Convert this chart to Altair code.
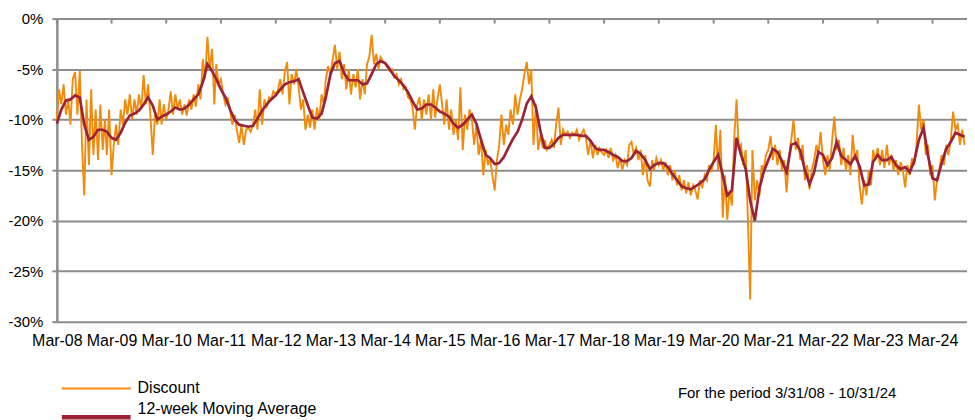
import altair as alt
import pandas as pd

# ---------------- data (percent discount) ----------------
FIRST_MONTH = "2008-03"
LAST_MONTH = "2024-10"

# Discount: semi-monthly readings (3/31/08, then the 15th and month end of each month)
DISCOUNT = [
    -10.0, -7.0, -8.5, -6.5, -9.5, -8.0, -10.5, -6.0, -5.3, -9.5, -5.2, -12.5, -17.5, -8.0, -14.5, -7.0, -13.5, -9.0, -14.0, -8.5, -13.0, -10.0, -13.5, -9.0, -15.5,
    -12.5, -10.5, -12.5, -9.0, -10.5, -8.0, -9.5, -7.5, -10.0, -8.0, -9.5, -7.5, -9.0, -5.6, -8.5, -6.5, -9.5, -13.5, -9.5, -10.5, -8.0, -10.5, -8.5, -10.0,
    -9.0, -7.2, -9.5, -7.5, -9.0, -8.0, -9.5, -8.5, -9.6, -8.0, -9.0, -7.5, -8.7, -6.5, -8.0, -4.0, -6.0, -1.8, -5.0, -3.0, -8.5, -4.5, -6.5, -6.0,
    -7.5, -8.5, -7.8, -9.0, -10.5, -9.5, -11.0, -12.3, -10.5, -12.5, -11.0, -10.8, -11.2, -10.5, -9.0, -11.0, -7.0, -10.5, -8.0, -8.7, -7.8, -8.0, -7.2, -7.5,
    -7.0, -6.0, -7.5, -5.2, -4.3, -8.5, -5.5, -6.5, -5.0, -6.8, -9.0, -8.0, -11.0, -9.5, -10.8, -9.0, -11.0, -8.8, -10.0, -7.5, -8.5, -6.0, -4.7, -5.5,
    -4.0, -2.6, -5.0, -3.3, -6.0, -4.5, -7.0, -5.0, -7.5, -5.5, -6.8, -5.0, -8.0, -6.0, -7.5, -4.5, -3.8, -1.6, -4.5, -3.5, -5.0, -3.8, -4.2, -4.5,
    -4.8, -5.2, -5.0, -5.8, -5.5, -6.5, -6.0, -7.0, -6.8, -7.8, -8.0, -8.8, -11.0, -8.5, -7.8, -10.0, -8.0, -9.5, -7.5, -10.0, -7.0, -9.8, -8.0, -6.5,
    -8.5, -10.5, -8.0, -11.0, -9.0, -11.5, -10.0, -12.0, -6.8, -13.0, -9.5, -11.0, -9.0, -10.0, -12.5, -10.5, -13.5, -12.0, -15.5, -13.0, -14.5, -13.8, -15.5, -17.0,
    -14.0, -12.5, -9.5, -12.5, -10.5, -11.5, -9.0, -10.5, -7.5, -9.5, -8.0, -7.0, -5.5, -4.3, -6.5, -5.0, -12.5, -8.5, -13.0, -11.5, -12.8, -12.0, -13.0, -12.5,
    -12.0, -12.8, -10.5, -8.8, -12.5, -11.0, -11.5, -11.2, -11.8, -11.3, -11.5, -11.0, -12.0, -11.4, -11.0, -11.8, -13.5, -12.0, -13.8, -12.5, -13.5, -12.8, -13.2, -13.5,
    -13.0, -13.8, -12.8, -14.0, -13.5, -14.8, -13.8, -15.0, -14.0, -14.5, -12.5, -12.2, -13.5, -12.8, -14.0, -13.0, -15.5, -13.5, -16.0, -16.6, -14.0, -15.0, -13.8, -14.5,
    -14.0, -15.0, -14.2, -15.5, -14.5, -16.0, -15.0, -16.5, -15.5, -17.0, -16.0, -17.3, -16.2, -17.5, -16.5, -17.0, -17.9, -16.0, -16.8, -15.5, -16.0, -14.5, -15.2, -14.0,
    -10.5, -15.0, -11.0, -19.7, -15.5, -19.9, -17.0, -18.5, -12.0, -8.0, -13.0, -12.5, -14.5, -13.0, -20.0, -27.8, -13.0, -18.0, -16.0, -17.5, -14.5, -15.0, -13.5, -13.0,
    -11.6, -14.0, -12.5, -14.5, -13.0, -15.0, -14.0, -17.2, -14.0, -12.0, -10.0, -13.0, -11.8, -14.0, -12.5, -16.0, -14.5, -16.9, -15.0, -14.0, -12.5, -13.5, -11.2, -14.0,
    -15.5, -13.5, -15.0, -12.0, -9.7, -13.0, -12.0, -14.5, -12.8, -15.0, -13.5, -15.5, -11.5, -14.0, -13.0, -16.5, -18.4, -16.0, -17.5, -15.0, -16.5, -13.0, -14.0, -12.8,
    -14.5, -13.0, -14.8, -12.5, -14.5, -13.5, -15.0, -14.0, -15.5, -14.2, -15.0, -16.7, -14.5, -15.5, -13.8, -14.5, -12.5, -8.5, -11.0, -10.0, -13.5, -12.5, -15.5, -14.5,
    -18.0, -16.0, -15.0, -13.5, -14.5, -12.5, -13.5, -12.0, -9.2, -11.0, -10.5, -12.5, -11.0, -12.5,
]

# 12-week moving average: month-end readings
MOVING_AVG = [
    -10.4, -9.0, -8.1, -8.0, -7.6, -7.8, -10.5, -12.0, -11.7, -11.0, -11.0, -11.2, -11.8,
    -12.0, -11.3, -10.3, -9.6, -9.4, -9.1, -8.5, -7.8, -8.6, -10.0, -9.7, -9.5,
    -9.2, -8.8, -9.0, -8.9, -8.5, -8.0, -7.5, -6.3, -4.5, -5.2, -6.0, -7.0,
    -7.8, -9.0, -10.0, -10.5, -10.6, -10.7, -10.6, -9.9, -9.1, -8.5, -8.0, -7.6,
    -7.0, -6.5, -6.3, -6.2, -6.0, -7.3, -8.6, -9.8, -9.9, -9.4, -7.8, -5.5,
    -4.4, -4.2, -5.4, -6.1, -6.1, -6.1, -6.5, -6.4, -5.5, -4.5, -4.2, -4.4,
    -5.0, -5.7, -6.1, -6.6, -7.3, -8.2, -9.0, -8.9, -8.5, -8.5, -8.8, -9.2,
    -9.4, -9.7, -10.4, -10.8, -10.5, -10.0, -9.5, -10.4, -12.0, -13.5, -13.8, -14.4,
    -14.3, -13.7, -12.8, -11.9, -11.2, -10.0, -8.4, -7.7, -8.8, -11.2, -12.8, -12.8,
    -12.4, -11.8, -11.5, -11.5, -11.5, -11.5, -11.6, -11.6, -12.1, -12.8, -13.0, -13.0,
    -13.2, -13.5, -13.7, -14.1, -14.1, -13.8, -13.1, -13.4, -14.0, -14.9, -14.5, -14.3,
    -14.3, -14.7, -15.4, -16.0, -16.6, -16.8, -16.9, -16.6, -16.3, -15.9, -15.0, -14.2,
    -13.5, -15.5, -17.5, -17.0, -11.8, -13.5, -14.9, -18.0, -20.0, -16.8, -15.2, -14.0,
    -12.9, -13.2, -14.1, -15.2, -12.5, -12.3, -13.1, -15.0, -16.4, -15.2, -13.2, -13.5,
    -14.5, -13.8, -12.2, -13.6, -14.0, -14.4, -13.6, -14.6, -16.5, -16.4, -14.2, -13.5,
    -14.0, -14.0, -13.7, -14.5, -14.9, -14.7, -15.2, -14.1, -12.0, -10.8, -13.5, -15.8,
    -16.0, -14.3, -12.9, -12.2, -11.3, -11.5, -11.7,
]

TICK_YEARS = list(range(2008, 2025))
Y_TICKS = [0, -5, -10, -15, -20, -25, -30]
LEGEND_LABELS = ["Discount", "12-week Moving Average"]
FOOTNOTE = "For the period 3/31/08 - 10/31/24"

ORANGE = "#F28A0C"
MAROON = "#9C2335"
GRID = "#8C8C8C"
FONT = "Liberation Sans"

# ---------------- tables ----------------
months = pd.period_range(FIRST_MONTH, LAST_MONTH, freq="M")
month_ends = [p.to_timestamp(how="end").normalize() for p in months]
disc_dates = [month_ends[0]]
for p, me in zip(months[1:], month_ends[1:]):
    disc_dates.append(p.to_timestamp() + pd.Timedelta(days=14))
    disc_dates.append(me)

df_disc = pd.DataFrame({"date": disc_dates, "value": DISCOUNT})
df_ma = pd.DataFrame({"date": month_ends, "value": MOVING_AVG})
df_ticks = pd.DataFrame({"date": [pd.Timestamp(y, 3, 31) for y in TICK_YEARS]})

x_scale = alt.Scale(domain=[alt.DateTime(year=2008, month=3, date=31),
                            alt.DateTime(year=2024, month=11, date=16)])
y_scale = alt.Scale(domain=[-30, 0], nice=False, zero=False)

x_axis = alt.Axis(values=[alt.DateTime(year=y, month=3, date=31) for y in TICK_YEARS],
                  format="%b-%y", title=None, grid=False, ticks=False, domain=False,
                  labelFontSize=16, labelPadding=11, labelColor="black", labelFont=FONT,
                  labelOverlap=False, labelFlush=False, labelBound=False)
y_axis = alt.Axis(values=Y_TICKS, labelExpr="datum.value + '%'", title=None,
                  grid=True, gridColor=GRID, gridWidth=2,
                  domain=True, domainColor=GRID, domainWidth=2.5,
                  ticks=True, tickSize=5, tickColor=GRID, tickWidth=2,
                  labelFontSize=15, labelPadding=9, labelColor="black", labelFont=FONT)

disc_line = alt.Chart(df_disc).mark_line(color=ORANGE, strokeWidth=1.9).encode(
    x=alt.X("date:T", scale=x_scale, axis=x_axis),
    y=alt.Y("value:Q", scale=y_scale, axis=y_axis),
)
ma_line = alt.Chart(df_ma).mark_line(color=MAROON, strokeWidth=2.7).encode(
    x=alt.X("date:T", scale=x_scale),
    y=alt.Y("value:Q", scale=y_scale),
)
top_ticks = alt.Chart(df_ticks).mark_rule(color=GRID, strokeWidth=2).encode(
    x=alt.X("date:T", scale=x_scale),
    y=alt.value(0),
    y2=alt.value(5),
)

# ---------------- legend and footnote (below the plot) ----------------
leg1 = pd.DataFrame({"label": [LEGEND_LABELS[0]]})
leg2 = pd.DataFrame({"label": [LEGEND_LABELS[1]]})
foot = pd.DataFrame({"label": [FOOTNOTE]})

leg1_line = alt.Chart(leg1).mark_rule(color=ORANGE, strokeWidth=2).encode(
    x=alt.value(5), x2=alt.value(74), y=alt.value(371))
leg2_line = alt.Chart(leg2).mark_rule(color=MAROON, strokeWidth=4.5).encode(
    x=alt.value(5), x2=alt.value(74), y=alt.value(400))
leg1_text = alt.Chart(leg1).mark_text(align="left", baseline="alphabetic", fontSize=16,
                                      font=FONT, color="black").encode(
    x=alt.value(81), y=alt.value(376), text="label:N")
leg2_text = alt.Chart(leg2).mark_text(align="left", baseline="alphabetic", fontSize=16,
                                      font=FONT, color="black").encode(
    x=alt.value(81), y=alt.value(397), text="label:N")
foot_text = alt.Chart(foot).mark_text(align="left", baseline="alphabetic", fontSize=15,
                                      font=FONT, color="black").encode(
    x=alt.value(623), y=alt.value(381), text="label:N")

chart = alt.layer(
    disc_line, ma_line, top_ticks,
    leg1_line, leg2_line, leg1_text, leg2_text, foot_text,
).properties(
    width=913,
    height=304,
    padding={"left": 49, "top": 10, "right": 0, "bottom": 100},
    autosize=alt.AutoSizeParams(type="none"),
).configure_view(stroke=None)

chart.save("out.html", embed_options={"renderer": "svg", "actions": False})
